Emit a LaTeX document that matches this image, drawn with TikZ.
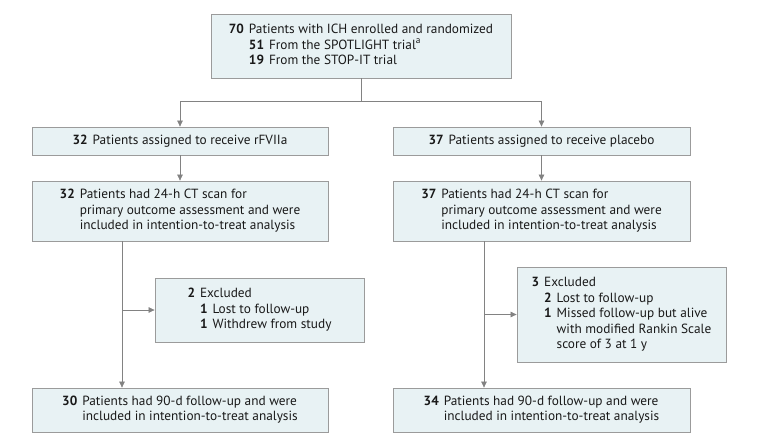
\documentclass[tikz,border=0pt]{standalone}
\usepackage{fontspec}
\setmainfont{PT Sans}
\usetikzlibrary{arrows.meta}
\definecolor{boxfill}{RGB}{232,242,244}
\definecolor{boxline}{RGB}{155,155,155}
\definecolor{linegray}{RGB}{130,130,130}
\tikzset{
	flowbox/.style={draw=boxline,fill=boxfill,line width=0.8pt,inner sep=0pt,
		font=\fontsize{13.3}{15.5}\selectfont,text=black!90},
	flowarrow/.style={draw=linegray,line width=0.7pt,-{Triangle[length=6pt,width=5.5pt]}},
	flowline/.style={draw=linegray,line width=0.7pt}
}
\newcommand{\nb}[1]{\textbf{#1}}
\begin{document}
\begin{tikzpicture}[x=1pt,y=-1pt]
	\useasboundingbox (0,0) rectangle (780,445);
	% enrolment
	\node[flowbox,minimum width=300pt,minimum height=64pt] (enrol) at (361,46)
		{\begin{tabular}{@{}r@{\hspace{5pt}}r@{\hspace{5pt}}l@{}}
			\nb{70} & \multicolumn{2}{@{}l@{}}{Patients with ICH enrolled and randomized}\\
			& \nb{51} & From the SPOTLIGHT trial\textsuperscript{a}\\
			& \nb{19} & From the STOP-IT trial
		\end{tabular}};
	% allocation
	\node[flowbox,minimum width=296pt,minimum height=28pt] (rfv) at (180,141)
		{\nb{32}\hspace{5pt}Patients assigned to receive rFVIIa};
	\node[flowbox,minimum width=297pt,minimum height=28pt] (plac) at (541.5,141)
		{\nb{37}\hspace{5pt}Patients assigned to receive placebo};
	% ct scan
	\node[flowbox,minimum width=296pt,minimum height=60pt] (ctl) at (180,211)
		{\begin{tabular}{@{}r@{\hspace{5pt}}l@{}}
			\nb{32} & Patients had 24-h CT scan for\\
			& primary outcome assessment and were\\
			& included in intention-to-treat analysis
		\end{tabular}};
	\node[flowbox,minimum width=297pt,minimum height=60pt] (ctr) at (541.5,211)
		{\begin{tabular}{@{}r@{\hspace{5pt}}l@{}}
			\nb{37} & Patients had 24-h CT scan for\\
			& primary outcome assessment and were\\
			& included in intention-to-treat analysis
		\end{tabular}};
	% exclusions
	\node[flowbox,minimum width=209pt,minimum height=64pt] (exl) at (259.5,310)
		{\begin{tabular}{@{}r@{\hspace{5pt}}r@{\hspace{5pt}}l@{}}
			\nb{2} & \multicolumn{2}{@{}l@{}}{Excluded}\\
			& \nb{1} & Lost to follow-up\\
			& \nb{1} & Withdrew from study
		\end{tabular}};
	\node[flowbox,minimum width=209pt,minimum height=95pt] (exr) at (621.5,314.5)
		{\begin{tabular}{@{}r@{\hspace{5pt}}r@{\hspace{5pt}}l@{}}
			\nb{3} & \multicolumn{2}{@{}l@{}}{Excluded}\\
			& \nb{2} & Lost to follow-up\\
			& \nb{1} & Missed follow-up but alive\\
			& & with modified Rankin Scale\\
			& & score of 3 at 1 y
		\end{tabular}};
	% follow-up
	\node[flowbox,minimum width=296pt,minimum height=44pt] (ful) at (180,410)
		{\begin{tabular}{@{}r@{\hspace{5pt}}l@{}}
			\nb{30} & Patients had 90-d follow-up and were\\
			& included in intention-to-treat analysis
		\end{tabular}};
	\node[flowbox,minimum width=297pt,minimum height=44pt] (fur) at (541.5,410)
		{\begin{tabular}{@{}r@{\hspace{5pt}}l@{}}
			\nb{34} & Patients had 90-d follow-up and were\\
			& included in intention-to-treat analysis
		\end{tabular}};
	% connectors
	\coordinate (split) at (361,101);
	\coordinate (splitl) at (180,101);
	\coordinate (splitr) at (541.5,101);
	\draw[flowline] (enrol.south) -- (split);
	\draw[flowline] (splitl) -- (splitr);
	\draw[flowarrow] (splitl) -- (rfv.north);
	\draw[flowarrow] (splitr) -- (plac.north);
	\draw[flowarrow] (rfv) -- (ctl);
	\draw[flowarrow] (plac) -- (ctr);
	\coordinate (ctlout) at (122,241);
	\coordinate (ctrout) at (484,241);
	\draw[flowarrow] (ctlout) -- (ctlout|-ful.north);
	\draw[flowarrow] (ctrout) -- (ctrout|-fur.north);
	\draw[flowarrow] (ctlout|-exl.west) -- (exl.west);
	\draw[flowarrow] (ctrout|-exr.west) -- (exr.west);
\end{tikzpicture}
\end{document}
